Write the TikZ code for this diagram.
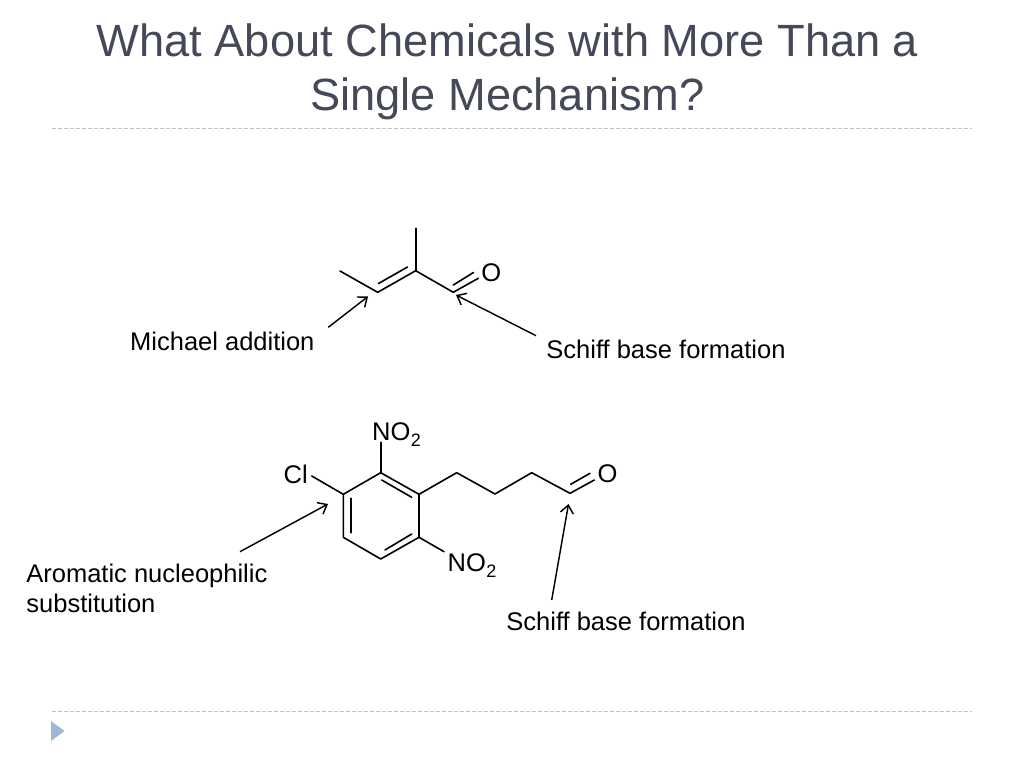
\documentclass[tikz,border=0pt]{standalone}
\usepackage{fontspec}
\setmainfont{Liberation Sans}
\usetikzlibrary{arrows.meta}
\definecolor{titlecol}{HTML}{454858}
\definecolor{rulecol}{HTML}{B4C6CC}
\definecolor{tricol}{HTML}{9DB7D5}
\newcommand{\NOtwo}{NO\raisebox{-6pt}{\kern0.5pt\fontsize{18}{18}\selectfont 2}}
\tikzset{
  bond/.style={line width=1.6pt,black,line cap=round},
  pointer/.style={line width=1.45pt,black,-{Straight Barb[length=8pt,width=13pt,line width=1.45pt]}},
  label/.style={font=\fontsize{25.5}{30.5}\selectfont,inner sep=0pt,text=black},
  atom/.style={font=\fontsize{25.5}{30.5}\selectfont,inner sep=0pt,text=black},
  rulerline/.style={rulecol,line width=1pt,dash pattern=on 3.5pt off 2.5pt},
}
\begin{document}
\begin{tikzpicture}[x=1pt,y=-1pt]
\useasboundingbox (0,0) rectangle (1024,768);
% title
\node[font=\fontsize{45.2}{54}\selectfont,text=titlecol,align=center,inner sep=0pt,anchor=base] (title) at (507.5,110) {What About Chemicals with More Than a\\Single Mechanism?};
% rules
\coordinate (r1a) at (52,128); \coordinate (r1b) at (972,128);
\coordinate (r2a) at (52,711.5); \coordinate (r2b) at (972,711.5);
\draw[rulerline] (r1a) -- (r1b);
\draw[rulerline] (r2a) -- (r2b);
\fill[tricol] (51,721) -- (64.5,731) -- (51,741) -- cycle;
% molecule 1
\coordinate (a1) at (415.7,228.3);
\coordinate (a2) at (415.7,270.7);
\coordinate (a3) at (340,271);
\coordinate (a4) at (377.7,292.3);
\coordinate (a5) at (453.3,292.3);
\coordinate (a6) at (478.3,278.3);
\coordinate (a6i) at (453.3,285);
\coordinate (a6j) at (473.5,272.5);
\coordinate (a7) at (378.5,283.5);
\coordinate (a8) at (407.5,267);
\node[atom] (oxy1) at (491.3,272.5) {O};
\draw[bond] (a1) -- (a2);
\draw[bond,line join=round] (a3) -- (a4) -- (a2) -- (a5) -- (a6);
\draw[bond] (a7) -- (a8);
\draw[bond] (a6i) -- (a6j);
% molecule 1 arrows and labels
\node[label,anchor=base west] (mich) at (130,350) {Michael addition};
\node[label,anchor=base west] (sch1) at (546.2,358) {Schiff base formation};
\coordinate (p1) at (328.3,327.3);
\coordinate (p2) at (368,296.5);
\coordinate (p3) at (536,335.7);
\coordinate (p4) at (456,295);
\draw[pointer] (p1) -- (p2);
\draw[pointer] (p3) -- (p4);
% molecule 2 ring
\coordinate (r1) at (380.7,472.7);
\coordinate (r2) at (419,494.3);
\coordinate (r3) at (419,537.3);
\coordinate (r4) at (380.7,559);
\coordinate (r5) at (343.3,537.3);
\coordinate (r6) at (343.3,494.3);
\draw[bond,line join=round] (r1) -- (r2) -- (r3) -- (r4) -- (r5) -- (r6) -- cycle;
\coordinate (i1) at (381.7,480); \coordinate (i2) at (411.7,497.3);
\coordinate (i3) at (411.7,534); \coordinate (i4) at (385,550);
\coordinate (i5) at (350.7,498.3); \coordinate (i6) at (350.7,532.7);
\draw[bond] (i1) -- (i2);
\draw[bond] (i3) -- (i4);
\draw[bond] (i5) -- (i6);
% substituents
\node[atom,anchor=base west] (no2a) at (372,440.5) {\NOtwo};
\node[atom,anchor=base west] (no2b) at (447.5,571) {\NOtwo};
\node[atom,anchor=base west] (cl) at (283.5,483) {Cl};
\coordinate (s1) at (380.7,442.3);
\coordinate (s2) at (444,551.7);
\coordinate (s3) at (311.7,476);
\draw[bond] (s1) -- (r1);
\draw[bond] (r3) -- (s2);
\draw[bond] (s3) -- (r6);
% chain
\coordinate (c1) at (456.7,472.7);
\coordinate (c2) at (495,494);
\coordinate (c3) at (531.7,472.7);
\coordinate (c4) at (570,493.3);
\coordinate (c5) at (594.3,480);
\coordinate (c5i) at (570.7,484.3);
\coordinate (c5j) at (590,473.3);
\node[atom] (oxy2) at (607.5,473.5) {O};
\draw[bond,line join=round] (r2) -- (c1) -- (c2) -- (c3) -- (c4) -- (c5);
\draw[bond] (c5i) -- (c5j);
% molecule 2 arrows and labels
\node[label,anchor=base west,align=left] (aro) at (26.2,612.5) {Aromatic nucleophilic\\substitution};
\node[label,anchor=base west] (sch2) at (506.2,630) {Schiff base formation};
\coordinate (p5) at (240,551.7);
\coordinate (p6) at (328,504);
\coordinate (p7) at (551.7,600);
\coordinate (p8) at (568.5,504);
\draw[pointer] (p5) -- (p6);
\draw[pointer] (p7) -- (p8);
\end{tikzpicture}
\end{document}
